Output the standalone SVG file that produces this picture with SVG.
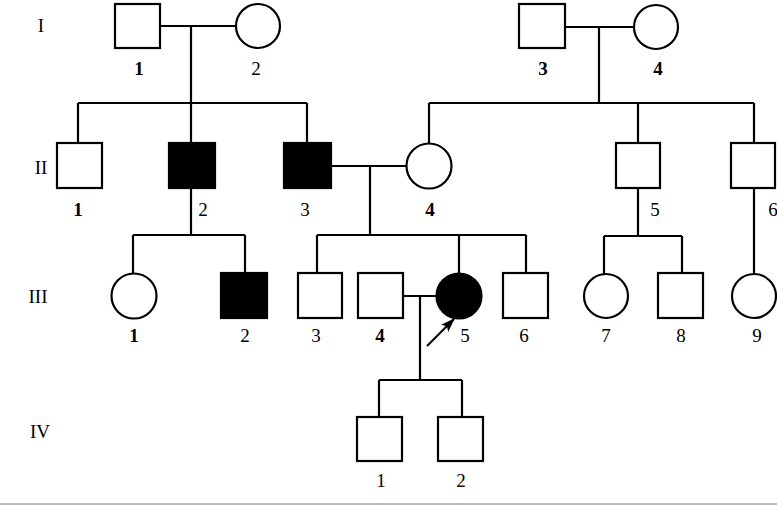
<svg xmlns="http://www.w3.org/2000/svg" width="777" height="505" viewBox="0 0 777 505">
<defs>
<style>
.m{fill:#fff;stroke:#000;stroke-width:2.2}
.a{fill:#000;stroke:#000;stroke-width:2.2}
.l{fill:none;stroke:#000;stroke-width:2.2}
text{font-family:"Liberation Serif","Times New Roman",serif;font-size:19px;fill:#000;text-anchor:middle}
.b{font-weight:bold}
</style>
<marker id="ah" viewBox="0 0 14 10" refX="13" refY="5" markerWidth="6.5" markerHeight="4.6" orient="auto" markerUnits="strokeWidth">
<path d="M0,0 L14,5 L0,10 L3,5 Z" fill="#000"/>
</marker>
</defs>
<rect width="777" height="505" fill="#fff"/>
<g id="gen-labels">
<text x="41" y="32">I</text>
<text x="41" y="174">II</text>
<text x="38" y="303">III</text>
<text x="40" y="438">IV</text>
</g>
<g id="connectors">
<path class="l" d="M160,26 H236 M191,26 V103 M78,103 H307 M78,103 V143 M191,103 V143 M307,103 V143"/>
<path class="l" d="M565,27 H634 M599,27 V103 M429,103 H754 M429,103 V144 M638,103 V143 M754,103 V143"/>
<path class="l" d="M191,188 V235 M133,235 H245 M133,235 V274 M245,235 V273"/>
<path class="l" d="M331,166 H407 M370,166 V235 M317,235 H526 M317,235 V273 M459,235 V273 M526,235 V273"/>
<path class="l" d="M638,188 V236 M604,236 H682 M604,236 V274 M682,236 V273"/>
<path class="l" d="M754,188 V274"/>
<path class="l" d="M403,296 H437 M420,296 V380 M379,380 H462 M379,380 V417 M462,380 V417"/>
<line x1="427" y1="346" x2="454" y2="319" stroke="#000" stroke-width="2.2" marker-end="url(#ah)"/>
</g>
<g id="I-1"><rect class="m" x="115" y="4" width="45" height="44"/><text class="b" x="139" y="75">1</text></g>
<g id="I-2"><circle class="m" cx="258" cy="26" r="22"/><text x="256" y="75">2</text></g>
<g id="I-3"><rect class="m" x="519" y="4" width="46" height="44"/><text class="b" x="543" y="75">3</text></g>
<g id="I-4"><circle class="m" cx="656" cy="27" r="22"/><text class="b" x="658" y="75">4</text></g>
<g id="II-1"><rect class="m" x="57" y="143" width="45" height="45"/><text class="b" x="78" y="216">1</text></g>
<g id="II-2"><rect class="a" x="169" y="143" width="46" height="45"/><text x="203" y="216">2</text></g>
<g id="II-3"><rect class="a" x="284" y="143" width="47" height="45"/><text x="305" y="216">3</text></g>
<g id="II-4"><circle class="m" cx="429" cy="166" r="22.5"/><text class="b" x="430" y="216">4</text></g>
<g id="II-5"><rect class="m" x="616" y="143" width="44" height="45"/><text x="655" y="216">5</text></g>
<g id="II-6"><rect class="m" x="731" y="143" width="44" height="45"/><text x="773" y="216">6</text></g>
<g id="III-1"><circle class="m" cx="134" cy="296" r="22.5"/><text class="b" x="134" y="342">1</text></g>
<g id="III-2"><rect class="a" x="221" y="273" width="46" height="45"/><text x="245" y="342">2</text></g>
<g id="III-3"><rect class="m" x="298" y="273" width="44" height="45"/><text x="316" y="342">3</text></g>
<g id="III-4"><rect class="m" x="358" y="273" width="45" height="45"/><text class="b" x="380" y="342">4</text></g>
<g id="III-5"><circle class="a" cx="459" cy="296" r="22.5"/><text x="465" y="342">5</text></g>
<g id="III-6"><rect class="m" x="503" y="273" width="45" height="45"/><text x="524" y="342">6</text></g>
<g id="III-7"><circle class="m" cx="606" cy="296" r="22"/><text x="606" y="342">7</text></g>
<g id="III-8"><rect class="m" x="658" y="273" width="45" height="45"/><text x="681" y="342">8</text></g>
<g id="III-9"><circle class="m" cx="754" cy="296" r="22"/><text x="757" y="342">9</text></g>
<g id="IV-1"><rect class="m" x="357" y="417" width="45" height="44"/><text x="381" y="487">1</text></g>
<g id="IV-2"><rect class="m" x="438" y="417" width="45" height="44"/><text x="461" y="487">2</text></g>
<line x1="0" y1="504" x2="777" y2="504" stroke="#bbb" stroke-width="2"/>
</svg>
